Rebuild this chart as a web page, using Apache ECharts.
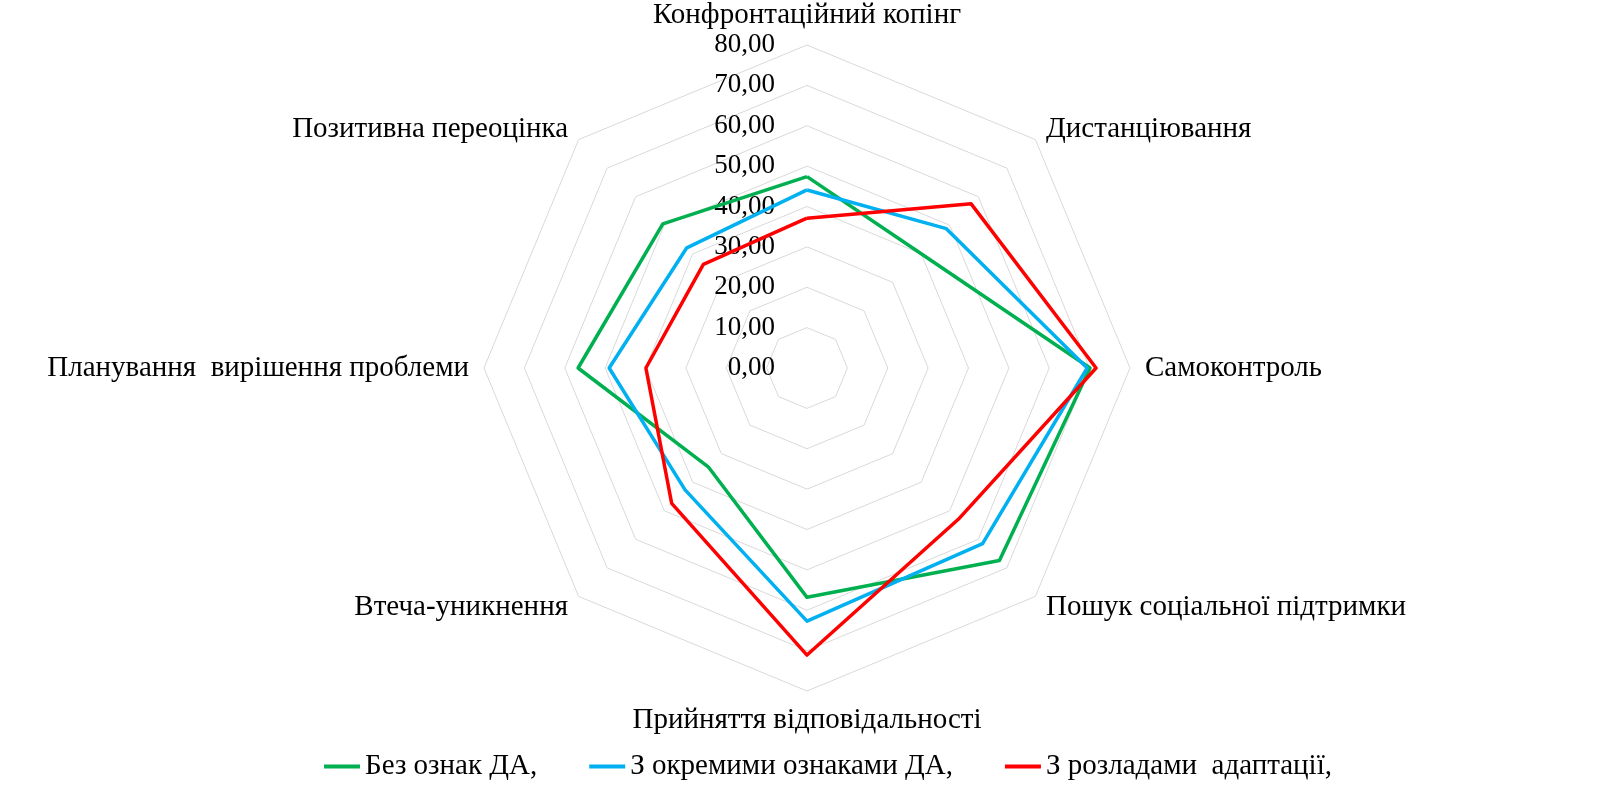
<!DOCTYPE html>
<html>
<head>
<meta charset="utf-8">
<title>Копінг-стратегії</title>
<script src="https://cdn.jsdelivr.net/npm/echarts@6/dist/echarts.min.js"></script>
<style>
  html, body { margin: 0; padding: 0; background: #fff; }
  #chart { width: 1605px; height: 788px; }
</style>
</head>
<body>
<div id="chart"></div>
<script>
// axes in Excel order, clockwise from the top
var categories = [
  'Конфронтаційний копінг',
  'Дистанціювання',
  'Самоконтроль',
  'Пошук соціальної підтримки',
  'Прийняття відповідальності',
  'Втеча-уникнення',
  'Планування  вирішення проблеми',
  'Позитивна переоцінка'
];
var seriesNames = ['Без ознак ДА,', 'З окремими ознаками ДА,', 'З розладами  адаптації,'];
var noSigns   = [47.4, 40.0, 70.1, 67.4, 56.8, 34.6, 56.7, 50.5];
var someSigns = [44.1, 48.8, 69.4, 61.5, 62.7, 42.7, 49.0, 42.1];
var disorders = [37.1, 57.5, 71.6, 53.0, 71.1, 47.4, 39.9, 36.3];
var axisMax = 80;
var axisSplits = 8;

var colors = ['#00B050', '#00B0F0', '#FF0000'];
var font = 'Liberation Serif, Times New Roman, serif';

// echarts lays radar indicators counter-clockwise, excel clockwise
function ccw(arr) {
  return [arr[0]].concat(arr.slice(1).reverse());
}

var indicators = ccw(categories).map(function (name, i) {
  var ind = { name: name, min: 0, max: axisMax };
  if (i === 0) {
    ind.axisLabel = {
      show: true,
      margin: 32,
      color: '#000',
      fontFamily: font,
      fontSize: 27,
      formatter: function (v) { return v.toFixed(2).replace('.', ','); }
    };
  }
  return ind;
});

var values = [noSigns, someSigns, disorders];

var myChart = echarts.init(document.getElementById('chart'));
myChart.setOption({
  animation: false,
  legend: {
    bottom: 2,
    left: 319,
    icon: 'rect',
    itemWidth: 36,
    itemHeight: 4,
    itemGap: 52,
    textStyle: { color: '#000', fontFamily: font, fontSize: 29 },
    data: seriesNames
  },
  radar: {
    center: [807, 368],
    radius: 323,
    shape: 'polygon',
    splitNumber: axisSplits,
    indicator: indicators,
    nameGap: 15,
    axisName: { color: '#000', fontFamily: font, fontSize: 29 },
    axisLine: { show: false },
    axisTick: { show: false },
    axisLabel: { show: false },
    splitArea: { show: false },
    splitLine: { lineStyle: { color: '#d9d9d9', width: 1 } }
  },
  series: values.map(function (v, i) {
    return {
      type: 'radar',
      name: seriesNames[i],
      symbol: 'none',
      color: colors[i],
      lineStyle: { color: colors[i], width: 3.5 },
      data: [{ name: seriesNames[i], value: ccw(v) }]
    };
  })
});
</script>
</body>
</html>
